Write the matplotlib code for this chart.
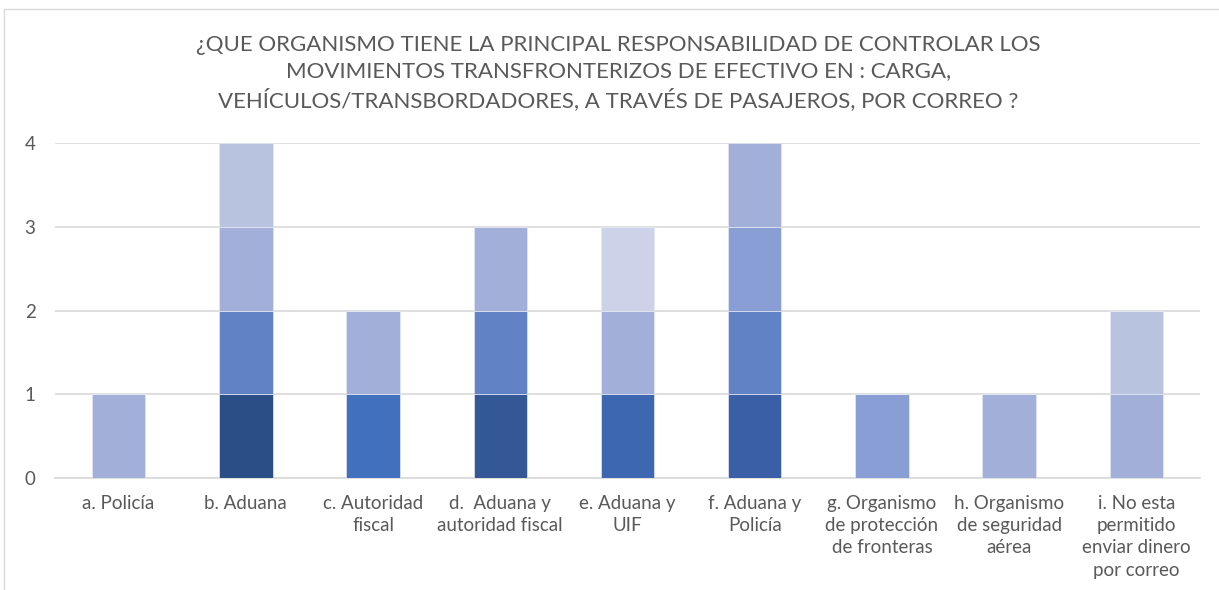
import matplotlib.pyplot as plt
from matplotlib.patches import Rectangle

plt.rcParams['font.family'] = ['Lato', 'DejaVu Sans']

categories = [
    "a. Policía", "b. Aduana", "c. Autoridad\nfiscal", "d.  Aduana y\nautoridad fiscal",
    "e. Aduana y\nUIF", "f. Aduana y\nPolicía", "g. Organismo\nde protección\nde fronteras",
    "h. Organismo\nde seguridad\naérea", "i. No esta\npermitido\nenviar dinero\npor correo",
]

# stacked segments (one per respondent layer)
layer1 = [1, 1, 1, 1, 1, 1, 1, 1, 1]
layer2 = [0, 1, 1, 1, 1, 1, 0, 0, 1]
layer3 = [0, 1, 0, 1, 1, 1, 0, 0, 0]
layer4 = [0, 1, 0, 0, 0, 1, 0, 0, 0]
layers = [layer1, layer2, layer3, layer4]

colors1 = ["#A2B0D9", "#2C4E87", "#4170BE", "#345796", "#3D67B0", "#3A5FA6", "#889ED4", "#A2B0D9", "#A2B0D9"]
colors2 = ["#A2B0D9", "#6282C6", "#A2B0D9", "#6282C6", "#A2B0D9", "#6282C6", "#889ED4", "#A2B0D9", "#B8C3E0"]
colors3 = ["#A2B0D9", "#A2B0D9", "#A2B0D9", "#A2B0D9", "#CCD2E7", "#889ED4", "#889ED4", "#A2B0D9", "#B8C3E0"]
colors4 = ["#B8C3E0", "#B8C3E0", "#B8C3E0", "#B8C3E0", "#B8C3E0", "#A2B0D9", "#B8C3E0", "#B8C3E0", "#B8C3E0"]
layer_colors = [colors1, colors2, colors3, colors4]

title = ("¿QUE ORGANISMO TIENE LA PRINCIPAL RESPONSABILIDAD DE CONTROLAR LOS\n"
         "MOVIMIENTOS TRANSFRONTERIZOS DE EFECTIVO EN : CARGA,\n"
         "VEHÍCULOS/TRANSBORDADORES, A TRAVÉS DE PASAJEROS, POR CORREO ?")

fig = plt.figure(figsize=(12.19, 5.9), dpi=100)
ax = fig.add_axes([0.0451, 0.1898, 0.9393, 0.5678])

x = list(range(len(categories)))
bottom = [0] * len(categories)
for vals, cols in zip(layers, layer_colors):
    ax.bar(x, vals, bottom=bottom, width=0.42, color=cols, edgecolor="#E4E8F3", linewidth=0.5, zorder=3)
    bottom = [b + v for b, v in zip(bottom, vals)]

ax.set_xlim(-0.5, len(categories) - 0.5)
ax.set_ylim(0, 4)
ax.set_yticks([0, 1, 2, 3, 4])
ax.grid(axis="y", color="#D9D9D9", linewidth=1.2, zorder=0)
ax.set_xticks(x)
ax.set_xticklabels(categories, fontsize=13.5, color="#595959", linespacing=1.38, va="top")
ax.tick_params(axis="y", labelsize=13.5, labelcolor="#595959", length=0, pad=14)
ax.tick_params(axis="x", length=0, pad=12)
for s in ["top", "right", "left"]:
    ax.spines[s].set_visible(False)
ax.spines["bottom"].set_color("#D9D9D9")
ax.spines["bottom"].set_linewidth(1.2)

fig.text(0.5075, 0.940, title, ha="center", va="top", fontsize=16, color="#595959", linespacing=1.36)

fig.patches.append(Rectangle((4 / 1219, -0.1), 1.2, 1.1 - 9 / 590, transform=fig.transFigure,
                             fill=False, edgecolor="#D9D9D9", linewidth=1.0))

fig.savefig("out.png", dpi=100)
